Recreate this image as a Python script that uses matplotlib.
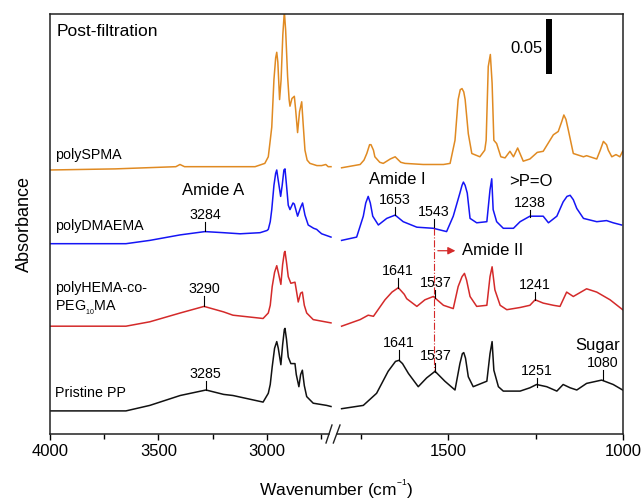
import matplotlib
matplotlib.use("Agg")
import matplotlib.pyplot as plt
import numpy as np

plt.rcParams["font.family"] = ["Liberation Sans", "DejaVu Sans"]
plt.rcParams["mathtext.fontset"] = "custom"
plt.rcParams["mathtext.rm"] = "Liberation Sans"
plt.rcParams["mathtext.it"] = "Liberation Sans:italic"
plt.rcParams["mathtext.bf"] = "Liberation Sans:bold"

# --- spectra (wavenumber cm-1, stacked absorbance) ---
spma_wn_hi = [4000, 3700, 3420, 3401, 3380, 3100, 3055, 3010, 2994, 2985, 2978, 2968, 2960, 2955,
              2950, 2942, 2935, 2927, 2920, 2914, 2905, 2898, 2894, 2885, 2874, 2868, 2859, 2850,
              2840, 2833, 2825, 2815, 2802, 2770, 2748, 2729, 2718, 2705]
spma_ab_hi = [0.240, 0.241, 0.243, 0.245, 0.243, 0.243, 0.243, 0.246, 0.252, 0.267, 0.279, 0.322,
              0.342, 0.347, 0.338, 0.304, 0.322, 0.363, 0.384, 0.367, 0.325, 0.304, 0.298, 0.305,
              0.307, 0.295, 0.274, 0.293, 0.302, 0.281, 0.258, 0.249, 0.246, 0.244, 0.244, 0.245,
              0.243, 0.243]
spma_wn_lo = [1804, 1751, 1740, 1732, 1724, 1720, 1713, 1709, 1695, 1685, 1665, 1651, 1635, 1623,
              1571, 1513, 1494, 1480, 1471, 1465, 1460, 1455, 1451, 1442, 1432, 1409, 1395, 1391,
              1385, 1379, 1374, 1369, 1361, 1349, 1337, 1323, 1313, 1301, 1285, 1266, 1245, 1228,
              1199, 1185, 1175, 1169, 1163, 1156, 1142, 1113, 1104, 1075, 1065, 1056, 1047, 1042,
              1032, 1020, 1009, 1001]
spma_ab_lo = [0.242, 0.245, 0.249, 0.255, 0.263, 0.263, 0.258, 0.252, 0.247, 0.246, 0.250, 0.252,
              0.247, 0.246, 0.245, 0.245, 0.246, 0.267, 0.304, 0.313, 0.314, 0.311, 0.304, 0.273,
              0.255, 0.252, 0.258, 0.267, 0.334, 0.345, 0.319, 0.267, 0.264, 0.252, 0.251, 0.257,
              0.252, 0.260, 0.248, 0.250, 0.256, 0.257, 0.272, 0.275, 0.284, 0.290, 0.286, 0.276,
              0.255, 0.252, 0.253, 0.250, 0.258, 0.266, 0.263, 0.258, 0.252, 0.254, 0.252, 0.257]

dma_wn_hi = [4000, 3650, 3540, 3400, 3286, 3200, 3124, 3032, 3000, 2994, 2985, 2978, 2968, 2960,
             2955, 2950, 2937, 2930, 2922, 2917, 2910, 2902, 2894, 2880, 2874, 2859, 2845, 2836,
             2825, 2810, 2785, 2771, 2760, 2748, 2705]
dma_ab_hi = [0.173, 0.173, 0.176, 0.181, 0.184, 0.183, 0.182, 0.183, 0.185, 0.186, 0.193, 0.204,
             0.226, 0.237, 0.240, 0.233, 0.216, 0.226, 0.240, 0.241, 0.226, 0.208, 0.204, 0.210,
             0.209, 0.198, 0.206, 0.210, 0.199, 0.190, 0.187, 0.186, 0.184, 0.182, 0.179]
dma_wn_lo = [1804, 1761, 1742, 1735, 1728, 1722, 1715, 1699, 1675, 1651, 1628, 1589, 1542, 1504,
             1485, 1466, 1460, 1456, 1451, 1445, 1437, 1418, 1389, 1380, 1375, 1371, 1361, 1342,
             1313, 1294, 1266, 1228, 1213, 1189, 1171, 1160, 1151, 1142, 1132, 1113, 1075, 1047,
             1028, 1004]
dma_ab_lo = [0.176, 0.179, 0.198, 0.210, 0.216, 0.210, 0.198, 0.190, 0.196, 0.199, 0.193, 0.188,
             0.187, 0.184, 0.198, 0.219, 0.226, 0.229, 0.226, 0.219, 0.196, 0.192, 0.193, 0.222,
             0.232, 0.204, 0.193, 0.187, 0.187, 0.193, 0.198, 0.198, 0.192, 0.198, 0.211, 0.216,
             0.217, 0.213, 0.205, 0.196, 0.193, 0.194, 0.192, 0.190]

hema_wn_hi = [4000, 3650, 3540, 3400, 3290, 3200, 3157, 3018, 2994, 2985, 2976, 2965, 2955, 2948,
              2936, 2928, 2920, 2917, 2910, 2902, 2890, 2871, 2865, 2856, 2845, 2837, 2828, 2817,
              2787, 2705]
hema_ab_hi = [0.098, 0.098, 0.102, 0.110, 0.116, 0.111, 0.108, 0.105, 0.110, 0.117, 0.134, 0.147,
              0.153, 0.147, 0.136, 0.154, 0.165, 0.166, 0.156, 0.143, 0.137, 0.138, 0.131, 0.120,
              0.128, 0.129, 0.117, 0.110, 0.104, 0.101]
hema_wn_lo = [1804, 1751, 1728, 1713, 1680, 1660, 1642, 1625, 1618, 1589, 1566, 1542, 1513, 1485,
              1471, 1460, 1453, 1447, 1437, 1418, 1389, 1380, 1374, 1366, 1351, 1332, 1294, 1266,
              1251, 1228, 1199, 1180, 1161, 1142, 1104, 1075, 1037, 1001]
hema_ab_lo = [0.098, 0.104, 0.108, 0.107, 0.122, 0.129, 0.133, 0.127, 0.123, 0.116, 0.122, 0.125,
              0.117, 0.114, 0.134, 0.143, 0.146, 0.140, 0.125, 0.116, 0.117, 0.143, 0.152, 0.131,
              0.117, 0.113, 0.115, 0.117, 0.122, 0.119, 0.117, 0.116, 0.129, 0.125, 0.132, 0.129,
              0.122, 0.113]

pp_wn_hi = [4000, 3650, 3540, 3400, 3281, 3200, 3157, 3018, 2994, 2985, 2976, 2965, 2955, 2948,
            2936, 2928, 2920, 2917, 2910, 2902, 2890, 2871, 2865, 2853, 2845, 2837, 2828, 2817,
            2787, 2725, 2705]
pp_ab_hi = [0.021, 0.021, 0.026, 0.035, 0.040, 0.036, 0.035, 0.029, 0.037, 0.045, 0.061, 0.078,
            0.084, 0.078, 0.063, 0.081, 0.095, 0.096, 0.086, 0.070, 0.064, 0.064, 0.054, 0.043,
            0.054, 0.058, 0.044, 0.034, 0.028, 0.026, 0.025]
pp_wn_lo = [1804, 1742, 1704, 1671, 1650, 1640, 1630, 1613, 1585, 1561, 1537, 1509, 1480, 1466,
            1459, 1455, 1450, 1442, 1428, 1389, 1380, 1374, 1369, 1356, 1342, 1294, 1266, 1247,
            1218, 1189, 1171, 1151, 1132, 1104, 1061, 1028, 1001]
pp_ab_lo = [0.023, 0.026, 0.037, 0.057, 0.066, 0.067, 0.064, 0.055, 0.043, 0.051, 0.057, 0.048,
            0.040, 0.064, 0.073, 0.074, 0.069, 0.052, 0.043, 0.048, 0.073, 0.084, 0.058, 0.043,
            0.039, 0.039, 0.042, 0.045, 0.043, 0.039, 0.045, 0.042, 0.040, 0.046, 0.049, 0.045,
            0.040]

names = ["polySPMA", "polyDMAEMA", "polyHEMA-co-\nPEG${}_{{}_{\\rm 10}}$MA", "Pristine PP"]
colors = ["#E08A22", "#1515F5", "#D42A2A", "#111111"]
name_y = [0.2536, 0.1891, 0.1226, 0.0375]

# peak marks: (label, wavenumber, tick bottom, tick top)
peak_lbl = ["3284", "3290", "3285", "1653", "1543", "1238", "1641", "1537", "1241",
            "1641", "1537", "1251", "1080"]
peak_wn = [3284, 3290, 3283, 1651, 1541, 1266, 1642, 1536, 1252, 1640, 1536, 1247, 1058]
peak_lo = [0.1845, 0.1164, 0.0400, 0.1991, 0.1882, 0.1975, 0.1327, 0.1236, 0.1218,
           0.0673, 0.0564, 0.0430, 0.0491]
peak_hi = [0.1927, 0.1255, 0.0482, 0.2066, 0.1955, 0.2036, 0.1418, 0.1309, 0.1294,
           0.0764, 0.0645, 0.0509, 0.0582]

# broken x axis: 4000-2705 and 1805-1000 on different scales
WN_ANCH = [1000, 1805, 2705, 4000]
U_ANCH = [0.0, 281.75, 292.0, 573.0]


def fwd(w):
    return np.interp(w, WN_ANCH, U_ANCH)


def inv(u):
    return np.interp(u, U_ANCH, WN_ANCH)


fig = plt.figure(figsize=(6.41, 5.03), dpi=100)
ax = fig.add_axes([50 / 641, 1 - 434 / 503, 573 / 641, 420 / 503])
ax.set_xscale("function", functions=(fwd, inv))
ax.set_xlim(4000, 1000)
ax.set_ylim(0, 0.3818)

spectra = [(spma_wn_hi, spma_ab_hi, spma_wn_lo, spma_ab_lo),
           (dma_wn_hi, dma_ab_hi, dma_wn_lo, dma_ab_lo),
           (hema_wn_hi, hema_ab_hi, hema_wn_lo, hema_ab_lo),
           (pp_wn_hi, pp_ab_hi, pp_wn_lo, pp_ab_lo)]
for (wh, ah, wl, al), c, nm, ny in zip(spectra, colors, names, name_y):
    ax.plot(wh, ah, color=c, lw=1.1)
    ax.plot(wl, al, color=c, lw=1.1)
    ax.text(3975, ny, nm, fontsize=10.3, ha="left", va="center", linespacing=1.3)

for lb, w, lo, hi in zip(peak_lbl, peak_wn, peak_lo, peak_hi):
    ax.plot([w, w], [lo, hi], color="k", lw=0.8)
    ax.text(w, hi, lb, fontsize=10.3, ha="center", va="bottom")

ax.text(3968, 0.3657, "Post-filtration", fontsize=12.5, ha="left", va="center")
ax.text(3247, 0.2209, "Amide A", fontsize=12, ha="center", va="center")
ax.text(1645, 0.2318, "Amide I", fontsize=12, ha="center", va="center")
ax.text(1263, 0.2294, ">P=O", fontsize=12, ha="center", va="center")
ax.text(1071, 0.0803, "Sugar", fontsize=12, ha="center", va="center")

# amide II guide
ax.plot([1541, 1541], [0.1873, 0.0582], color="#D42A2A", lw=0.8, ls="-.")
ax.annotate("", xy=(1471, 0.1666), xytext=(1537, 0.1666),
            arrowprops=dict(arrowstyle="-|>", color="#D42A2A", lw=0.9, mutation_scale=11))
ax.text(1461, 0.1666, "Amide II", fontsize=12, ha="left", va="center")

# scale bar
ax.plot([1211, 1211], [0.327, 0.377], color="k", lw=4.3, solid_capstyle="butt")
ax.text(1231, 0.3506, "0.05", fontsize=12, ha="right", va="center")

# axes styling
ax.set_yticks([])
ax.set_xticks([4000, 3500, 3000, 1500, 1000])
ax.set_xticks([3750, 3250, 2750, 1750, 1250], minor=True)
ax.set_xticklabels(["4000", "3500", "3000", "1500", "1000"])
ax.tick_params(axis="x", which="major", direction="out", length=4.5, width=1, labelsize=12, pad=3)
ax.tick_params(axis="x", which="minor", direction="out", length=3.5, width=1)
for s in ax.spines.values():
    s.set_linewidth(1.1)
    s.set_color("#222222")
ax.spines["bottom"].set_visible(False)
ax.plot([0, 0.4869], [0, 0], transform=ax.transAxes, color="#222222", lw=1.1, clip_on=False)
ax.plot([0.5, 1], [0, 0], transform=ax.transAxes, color="#222222", lw=1.1, clip_on=False)
ax.plot([0.4817, 0.4921], [-0.0214, 0.0214], transform=ax.transAxes, color="#222222", lw=1, clip_on=False)
ax.plot([0.4945, 0.5061], [-0.0214, 0.0214], transform=ax.transAxes, color="#222222", lw=1, clip_on=False)

ax.set_xlabel("Wavenumber (cm${}^{{}^{-1}}$)", fontsize=12.5, labelpad=13)
ax.set_ylabel("Absorbance", fontsize=13, labelpad=12)

fig.savefig("out.png", dpi=100)
